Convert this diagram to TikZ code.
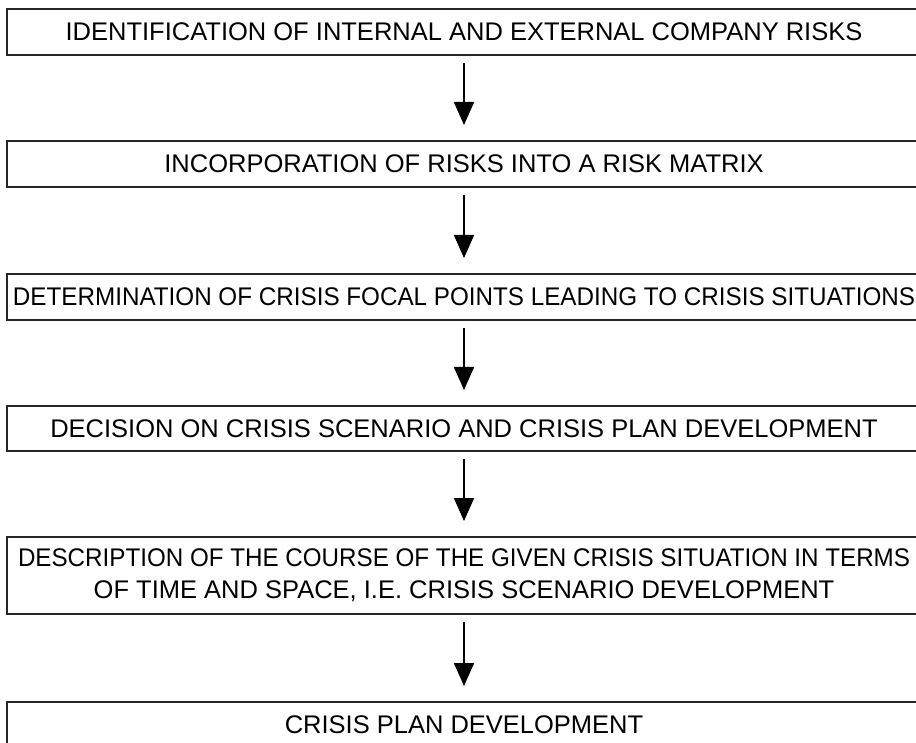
\documentclass[tikz,border=0pt]{standalone}
\usepackage{graphicx}
\usepackage{fontspec}
\setmainfont{Liberation Sans}
\usetikzlibrary{arrows.meta}
% squeeze a line horizontally to a given width, keeping its height
\newcommand{\fitline}[2]{\resizebox{#1}{\height}{#2}}
\begin{document}
\begin{tikzpicture}[x=1pt,y=1pt,
  stagebox/.style={draw=black!85, line width=2pt, minimum width=914pt,
    inner sep=0pt, align=center,
    font=\fontsize{25.5}{32}\selectfont},
  flowarrow/.style={line width=1.8pt, -{Triangle[length=23pt,width=20pt]}}]
\clip (0,0) rectangle (916,-743);
\node[stagebox, minimum height=46pt] (b1) at (464,-32)
  {IDENTIFICATION OF INTERNAL AND EXTERNAL COMPANY RISKS};
\node[stagebox, minimum height=46pt] (b2) at (464,-164)
  {INCORPORATION OF RISKS INTO A RISK MATRIX};
\node[stagebox, minimum height=46pt] (b3) at (464,-297)
  {\fitline{902pt}{DETERMINATION OF CRISIS FOCAL POINTS LEADING TO CRISIS SITUATIONS}};
\node[stagebox, minimum height=45pt] (b4) at (464,-428.5)
  {DECISION ON CRISIS SCENARIO AND CRISIS PLAN DEVELOPMENT};
\node[stagebox, minimum height=77pt] (b5) at (464,-575.5)
  {\fitline{892pt}{DESCRIPTION OF THE COURSE OF THE GIVEN CRISIS SITUATION IN TERMS}\\
   OF TIME AND SPACE, I.E. CRISIS SCENARIO DEVELOPMENT};
\node[stagebox, minimum height=46pt] (b6) at (464,-725)
  {CRISIS PLAN DEVELOPMENT};
\draw[flowarrow] ([yshift=-7pt]b1.south) -- ([yshift=15pt]b2.north);
\draw[flowarrow] ([yshift=-7pt]b2.south) -- ([yshift=15pt]b3.north);
\draw[flowarrow] ([yshift=-7pt]b3.south) -- ([yshift=15pt]b4.north);
\draw[flowarrow] ([yshift=-7pt]b4.south) -- ([yshift=15pt]b5.north);
\draw[flowarrow] ([yshift=-7pt]b5.south) -- ([yshift=15pt]b6.north);
\end{tikzpicture}
\end{document}
